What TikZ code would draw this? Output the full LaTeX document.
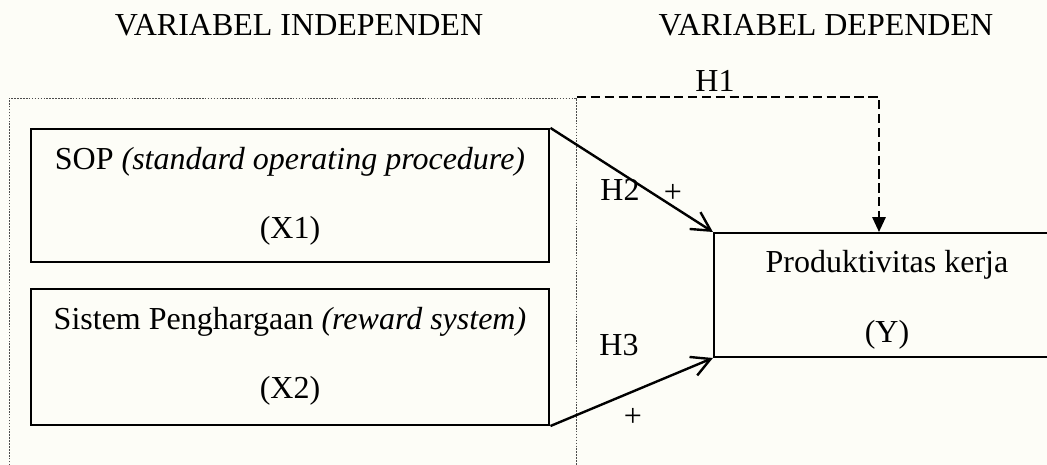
\documentclass[tikz,border=0pt]{standalone}
\usepackage{fontspec}
\setmainfont{Liberation Serif}
\usetikzlibrary{arrows.meta}
\definecolor{bgcream}{RGB}{253,253,247}
\begin{document}
\begin{tikzpicture}[x=0.375pt,y=-0.375pt,
  txt/.style={font=\fontsize{12}{14}\selectfont, inner sep=0pt},
  varbox/.style={draw, line width=0.75pt, inner sep=0pt},
  solidarr/.style={line width=0.9pt, -{Straight Barb[length=7pt,width=7.5pt,line width=0.9pt]}},
  hyparr/.style={line width=0.75pt, dash pattern=on 3.5pt off 1.7pt, -{Triangle[length=5.6pt,width=5pt]}},
  frame/.style={line width=0.35pt, draw=black!70, dash pattern=on 0.6pt off 0.5pt}]
\useasboundingbox (0,0) rectangle (1047,465);
\clip (0,0) rectangle (1047,465);
\fill[bgcream] (0,0) rectangle (1047,465);

\node[txt] (tind) at (299,25) {VARIABEL INDEPENDEN};
\node[txt] (tdep) at (826,25) {VARIABEL DEPENDEN};

\draw[frame] (9,480) -- (9,98) -- (576,98) -- (576,480);
\coordinate (c1) at (577,97);

\node[varbox, minimum width=194.6pt, minimum height=49.9pt] (X1) at (290,195.5) {};
\node[txt] (x1a) at (290,162) {SOP \textit{(standard operating procedure)}};
\node[txt] (x1b) at (290,230.5) {(X1)};

\node[varbox, minimum width=194.6pt, minimum height=51pt] (X2) at (290,357) {};
\node[txt] (x2a) at (290,321.5) {Sistem Penghargaan \textit{(reward system)}};
\node[txt] (x2b) at (290,390.5) {(X2)};

\node[varbox, minimum width=129.8pt, minimum height=46.5pt] (Y) at (887,295) {};
\node[txt] (ya) at (887,264.5) {Produktivitas kerja};
\node[txt] (yb) at (887,334.5) {(Y)};

\coordinate (h1turn) at (879,97);
\draw[hyparr] (c1) -- (h1turn) -- (h1turn |- Y.north);
\node[txt] (h1) at (715,80.5) {H1};

\draw[solidarr] (X1.north east) -- (Y.north west);
\draw[solidarr] (X2.south east) -- (Y.south west);

\node[txt] (h2) at (620,189.5) {H2};
\node[txt] (p2) at (673,193) {+};
\node[txt] (h3) at (619,345) {H3};
\node[txt] (p3) at (633,417) {+};
\end{tikzpicture}
\end{document}
